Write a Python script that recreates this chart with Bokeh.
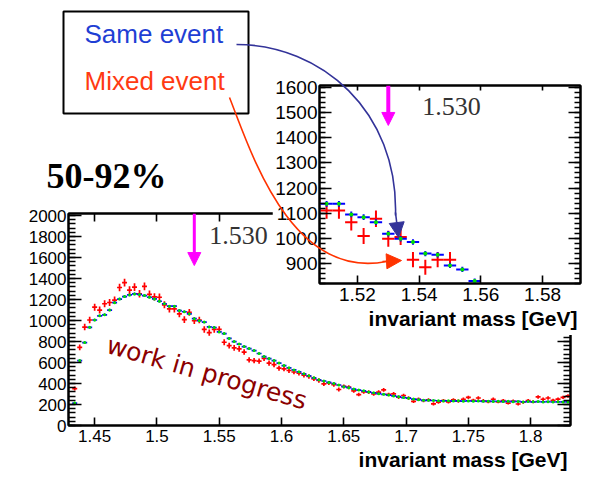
import numpy as np
from bokeh.plotting import figure
from bokeh.layouts import column
from bokeh.models import (Range1d, FixedTicker, LinearAxis, Title, Label, Arrow, NormalHead,
                          CustomJSTickFormatter, ColumnDataSource)
from bokeh.embed import file_html
from bokeh.resources import INLINE

# ---------------- data ----------------
bin_width = 0.004
mass = np.round(1.430 + bin_width * np.arange(101), 3)   # bin centres [GeV]

same_event = [0, 214, 619, 790, 935, 1005, 1045, 1055, 1100, 1170,
              1205, 1228, 1244, 1254, 1248, 1238, 1222, 1206, 1184, 1160,
              1137, 1137, 1095, 1084, 1064, 1018, 998, 985, 939, 934,
              892, 876, 830, 800, 776, 752, 733, 714, 686, 657,
              638, 619, 595, 571, 550, 530, 511, 492, 473, 454,
              435, 424, 410, 400, 386, 370, 360, 347, 338, 330,
              320, 311, 303, 297, 290, 282, 275, 266, 260, 252,
              246, 240, 240, 238, 236, 234, 236, 233, 235, 232,
              234, 231, 233, 230, 232, 229, 231, 228, 230, 227,
              229, 225, 228, 226, 228, 225, 227, 224, 226, 225, 225]

mixed_event = [0, 352, 745, 938, 1005, 1127, 1100, 1160, 1172, 1195,
               1315, 1362, 1290, 1318, 1255, 1326, 1250, 1225, 1222, 1150,
               1111, 1111, 1064, 1009, 1078, 998, 1005, 915, 885, 915,
               915, 793, 762, 740, 730, 700, 625, 619, 613, 640,
               594, 580, 546, 540, 524, 510, 498, 480, 467, 445,
               429, 397, 405, 390, 343, 372, 365, 330, 295, 320,
               317, 300, 318, 340, 296, 302, 270, 286, 262, 229,
               250, 238, 244, 206, 222, 238, 225, 245, 232, 250,
               268, 240, 262, 236, 228, 250, 226, 238, 214, 232,
               205, 222, 238, 226, 272, 250, 262, 240, 252, 268, 282]

main_x_ticks = [1.45, 1.5, 1.55, 1.6, 1.65, 1.7, 1.75, 1.8]
main_x_labels = ["1.45", "1.5", "1.55", "1.6", "1.65", "1.7", "1.75", "1.8"]
main_y_ticks = [0, 200, 400, 600, 800, 1000, 1200, 1400, 1600, 1800, 2000]
inset_x_ticks = [1.52, 1.54, 1.56, 1.58]
inset_x_labels = ["1.52", "1.54", "1.56", "1.58"]
inset_y_ticks = [900, 1000, 1100, 1200, 1300, 1400, 1500, 1600]
x_title = "invariant mass [GeV]"
peak_mass = 1.530
peak_text = "1.530"
centrality = "50-92%"
legend_same = "Same event"
legend_mixed = "Mixed event"
watermark = "work in progress"

same = np.array(same_event, dtype=float)
mixed = np.array(mixed_event, dtype=float)
same_err = np.sqrt(same) * 0.35
mixed_err = np.sqrt(mixed)

src = ColumnDataSource(dict(
    x=mass, left=mass - bin_width / 2, right=mass + bin_width / 2,
    same=same, same_lo=same - same_err, same_hi=same + same_err,
    mixed=mixed, mixed_lo=mixed - mixed_err, mixed_hi=mixed + mixed_err))

FONT = "Liberation Sans"
BLANK = CustomJSTickFormatter(code="return ''")


def draw_points(fig, lw, dot):
    fig.segment(x0="left", y0="mixed", x1="right", y1="mixed", source=src,
                line_color="#ff0000", line_width=lw)
    fig.segment(x0="x", y0="mixed_lo", x1="x", y1="mixed_hi", source=src,
                line_color="#ff0000", line_width=lw)
    fig.segment(x0="left", y0="same", x1="right", y1="same", source=src,
                line_color="#0000ff", line_width=lw)
    fig.segment(x0="x", y0="same_lo", x1="x", y1="same_hi", source=src,
                line_color="#0000ff", line_width=lw)
    fig.scatter(x="x", y="same", source=src, size=dot, marker="circle",
                fill_color="#00e000", line_color=None)


def add_axes(fig, xt, xl, yt, ymin, fs, ymaj, ymn, xmaj, xtop):
    com = dict(axis_line_width=2, axis_line_color="black",
               major_tick_line_width=1.6, minor_tick_line_width=1.3,
               major_tick_out=0, minor_tick_out=0,
               major_label_text_font=FONT, major_label_text_font_size=fs,
               major_label_text_color="black")
    xtick = FixedTicker(ticks=xt, minor_ticks=[])
    ytick = FixedTicker(ticks=yt, minor_ticks=ymin)
    b = LinearAxis(ticker=xtick, major_label_overrides=dict(zip(xt, xl)),
                   major_tick_in=xmaj, major_label_standoff=4, **com)
    t = LinearAxis(ticker=xtick, formatter=BLANK, major_tick_in=xtop, **com)
    l = LinearAxis(ticker=ytick, major_tick_in=ymaj, minor_tick_in=ymn,
                   major_label_standoff=2, **com)
    r = LinearAxis(ticker=ytick, formatter=BLANK, major_tick_in=ymaj,
                   minor_tick_in=ymn, **com)
    fig.add_layout(b, "below")
    fig.add_layout(t, "above")
    fig.add_layout(l, "left")
    fig.add_layout(r, "right")
    fig.add_layout(Title(text=x_title, align="right", text_font=FONT,
                         text_font_style="bold", text_font_size="21px",
                         text_color="black", offset=3, standoff=2), "below")


# ---------------- main plot ----------------
p = figure(width=590, height=479, x_range=Range1d(1.429, 1.832), y_range=Range1d(0, 2020),
           x_axis_type=None, y_axis_type=None, output_backend="svg", toolbar_location=None,
           min_border_left=68, min_border_right=20, min_border_top=213, min_border_bottom=54,
           outline_line_color="black", outline_line_width=2, background_fill_color="white",
           border_fill_color="white", frame_align=False)
p.xgrid.visible = False
p.ygrid.visible = False
draw_points(p, 1.7, 3)
add_axes(p, main_x_ticks, main_x_labels, main_y_ticks, list(range(0, 2021, 40)),
         "17px", 13, 7, 8, 8)
p.add_layout(Arrow(end=NormalHead(size=13, fill_color="#ff00ff", line_color="#ff00ff"),
                   x_start=peak_mass, y_start=2020, x_end=peak_mass, y_end=1524,
                   line_color="#ff00ff", line_width=3))
p.add_layout(Label(x=peak_mass, y=1730, x_offset=15, text=peak_text,
                   text_font="Liberation Serif", text_font_size="26px", text_color="#333333"))
p.add_layout(Label(x=1.54, y=502, text=watermark, angle=-16, angle_units="deg",
                   text_align="center", text_baseline="middle", text_font="DejaVu Sans",
                   text_font_size="25px", text_color="#8b0000"))

# ---------------- inset ----------------
q = figure(width=318, height=265, x_range=Range1d(1.5077, 1.5923), y_range=Range1d(820, 1608),
           x_axis_type=None, y_axis_type=None, output_backend="svg", toolbar_location=None,
           min_border_left=47, min_border_right=10, min_border_top=15, min_border_bottom=52,
           outline_line_color="black", outline_line_width=2, background_fill_color="white",
           border_fill_color="white", margin=(-409, 0, 0, 272), frame_align=False)
q.xgrid.visible = False
q.ygrid.visible = False
draw_points(q, 2, 4)
add_axes(q, inset_x_ticks, inset_x_labels, inset_y_ticks, list(range(820, 1610, 20)),
         "19px", 12, 6, 8, 5)
q.add_layout(Arrow(end=NormalHead(size=13, fill_color="#ff00ff", line_color="#ff00ff"),
                   x_start=peak_mass, y_start=1608, x_end=peak_mass, y_end=1449,
                   line_color="#ff00ff", line_width=4))
q.add_layout(Label(x=peak_mass, y=1489, x_offset=34, text=peak_text,
                   text_font="Liberation Serif", text_font_size="26px", text_color="#333333"))

# ---------------- overlay (legend box, label, arrows) ----------------
o = figure(width=590, height=479, x_range=Range1d(0, 590), y_range=Range1d(479, 0),
           x_axis_type=None, y_axis_type=None, output_backend="svg", toolbar_location=None,
           min_border=0, outline_line_color=None, background_fill_alpha=0,
           border_fill_alpha=0, margin=(-335, 0, 0, 0), frame_align=False)
o.xgrid.visible = False
o.ygrid.visible = False
o.quad(left=[63], right=[248], top=[11], bottom=[113], fill_color="white",
       line_color="black", line_width=2)
o.add_layout(Label(x=84, y=48, text=legend_same, text_font=FONT, text_font_size="26px",
                   text_color="#1f3fd4"))
o.add_layout(Label(x=84, y=95, text=legend_mixed, text_font=FONT, text_font_size="26px",
                   text_color="#ff3a12"))
o.add_layout(Label(x=46, y=195, text=centrality, text_font="Liberation Serif",
                   text_font_style="bold", text_font_size="36px", text_color="black"))
o.bezier(x0=[236], y0=[44], x1=[395], y1=[215], cx0=[320], cy0=[44], cx1=[398], cy1=[110],
         line_color="#333399", line_width=1.6)
o.add_layout(Arrow(end=NormalHead(size=15, fill_color="#333399", line_color="#333399"),
                   x_start=395, y_start=212, x_end=398, y_end=237,
                   line_color="#333399", line_width=1.6))
o.bezier(x0=[229], y0=[97], x1=[386], y1=[261], cx0=[250], cy0=[150], cx1=[290], cy1=[280],
         line_color="#ff3300", line_width=1.6)
o.add_layout(Arrow(end=NormalHead(size=15, fill_color="#ff3300", line_color="#ff3300"),
                   x_start=382, y_start=261, x_end=401, y_end=260,
                   line_color="#ff3300", line_width=1.6))

layout = column(p, q, o)
open("out.html", "w").write(file_html(layout, INLINE))
